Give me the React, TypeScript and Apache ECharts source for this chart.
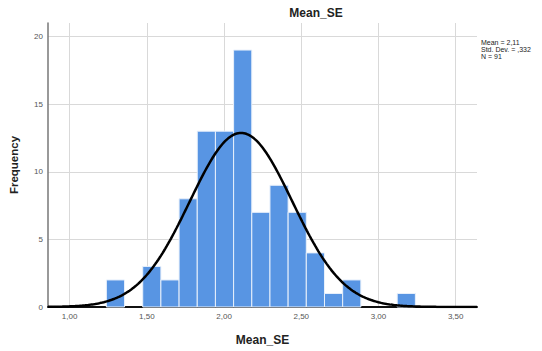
import React, { useEffect, useRef } from "react";
import * as echarts from "echarts";

// Histogram data
const binStart = 1.238;
const binWidth = 0.1177;
const binCounts = [2, 0, 3, 2, 8, 13, 13, 19, 7, 9, 7, 4, 1, 2, 0, 0, 1];

// Summary statistics shown in the chart
const statMean = 2.11;
const statSD = 0.332;
const statN = 91;

const xTickValues = [1.0, 1.5, 2.0, 2.5, 3.0, 3.5];
const yTickValues = [0, 5, 10, 15, 20];
const xMin = 0.86;
const xMax = 3.638;
const yMax = 21;

const FONT = "'Liberation Sans', Arial, sans-serif";

function fmtComma(v: number) {
  return v.toFixed(2).replace(".", ",");
}

export default function App() {
  const ref = useRef<HTMLDivElement>(null);

  useEffect(() => {
    if (!ref.current) return;
    const chart = echarts.init(ref.current, null, { renderer: "svg" });

    const bins = binCounts.map((c, i) => [
      binStart + i * binWidth,
      binStart + (i + 1) * binWidth,
      c,
    ]);

    // Fitted normal curve from the displayed Mean / Std. Dev. / N
    const curve: number[][] = [];
    const steps = 300;
    const scale = (statN * binWidth) / (statSD * Math.sqrt(2 * Math.PI));
    for (let k = 0; k <= steps; k++) {
      const x = xMin + ((xMax - xMin) * k) / steps;
      const z = (x - statMean) / statSD;
      curve.push([x, scale * Math.exp(-0.5 * z * z)]);
    }

    const legendLines = [
      `Mean = ${statMean.toFixed(2).replace(".", ",")}`,
      `Std. Dev. = ${statSD.toFixed(3).replace("0.", ",")}`,
      `N = ${statN}`,
    ];

    chart.setOption({
      animation: false,
      textStyle: { fontFamily: FONT },
      grid: { left: 46, right: 65, top: 23, bottom: 43, containLabel: false },
      xAxis: {
        type: "value",
        min: xMin,
        max: xMax,
        name: "Mean_SE",
        nameLocation: "middle",
        nameGap: 27,
        nameTextStyle: { fontFamily: FONT, fontSize: 12, fontWeight: "bold", color: "#222" },
        axisLine: { show: true, onZero: false, lineStyle: { color: "#111", width: 2 } },
        axisTick: { show: false, customValues: xTickValues },
        axisLabel: {
          customValues: xTickValues,
          formatter: (v: number) => fmtComma(v),
          fontSize: 8,
          color: "#555",
          margin: 5,
        },
        splitLine: { show: true, lineStyle: { color: "#d9d9d9", width: 1 } },
      },
      yAxis: {
        type: "value",
        min: 0,
        max: yMax,
        name: "Frequency",
        nameLocation: "middle",
        nameGap: 28,
        nameTextStyle: { fontFamily: FONT, fontSize: 11.5, fontWeight: "bold", color: "#222" },
        axisLine: { show: true, lineStyle: { color: "#777", width: 1.5 } },
        axisTick: { show: false, customValues: yTickValues },
        axisLabel: {
          customValues: yTickValues,
          fontSize: 8,
          color: "#555",
          margin: 5,
        },
        splitLine: { show: true, lineStyle: { color: "#d9d9d9", width: 1 } },
      },
      graphic: [
        {
          type: "text",
          x: 316,
          y: 13,
          style: {
            text: "Mean_SE",
            fontFamily: FONT,
            fontSize: 12,
            fontWeight: "bold",
            fill: "#222",
            align: "center",
            verticalAlign: "middle",
          },
        },
        ...legendLines.map((t, i) => ({
          type: "text",
          x: 481,
          y: 38.5 + i * 7,
          style: {
            text: t,
            fontFamily: FONT,
            fontSize: 7,
            fill: "#222",
            align: "left",
            verticalAlign: "top",
          },
        })),
      ],
      series: [
        {
          type: "custom",
          data: bins,
          encode: { x: [0, 1], y: 2 },
          z: 2,
          renderItem: (params: any, api: any) => {
            const count = api.value(2);
            if (!count) return null;
            const p0 = api.coord([api.value(0), count]);
            const p1 = api.coord([api.value(1), 0]);
            return {
              type: "rect",
              shape: { x: p0[0], y: p0[1], width: p1[0] - p0[0], height: p1[1] - p0[1] },
              style: { fill: "#5895e3", stroke: "#e8f0fb", lineWidth: 1 },
            };
          },
        },
        {
          type: "line",
          data: curve,
          showSymbol: false,
          smooth: false,
          z: 5,
          lineStyle: { color: "#000", width: 2.5 },
        },
      ],
    });

    return () => chart.dispose();
  }, []);

  return (
    <div
      ref={ref}
      style={{ position: "fixed", left: 0, top: 0, width: 542, height: 351, background: "#fff" }}
    />
  );
}
